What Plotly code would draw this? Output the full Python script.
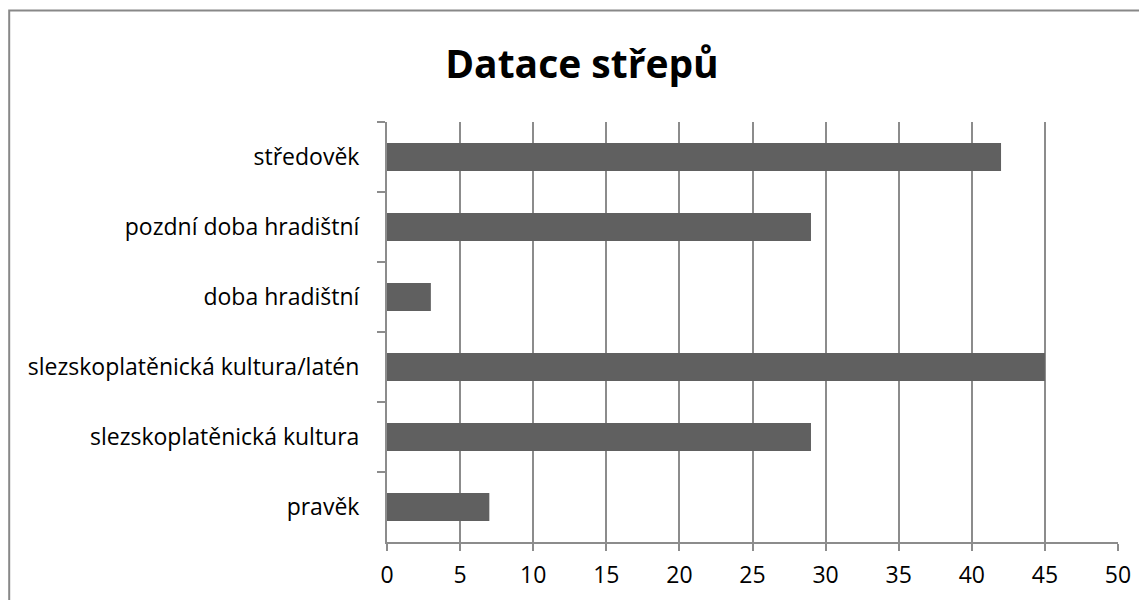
import plotly.graph_objects as go

categories = ['středověk', 'pozdní doba hradištní', 'doba hradištní',
              'slezskoplatěnická kultura/latén', 'slezskoplatěnická kultura', 'pravěk']
counts = [42, 29, 3, 45, 29, 7]

font = "Open Sans"
grid = "#8c8c8c"

fig = go.Figure([go.Bar(x=counts, y=categories, orientation='h',
                        marker_color='#606060', marker_line_width=0)])

# page body adds an 8px offset, so margins are shifted to compensate
fig.update_layout(
    width=1147, height=600,
    margin=dict(l=379, r=37, t=114, b=66),
    paper_bgcolor='white', plot_bgcolor='white',
    font=dict(family=font, size=23, color='#000000'),
    bargap=0.6,
    showlegend=False,
    title=dict(text='<b>Datace střepů</b>', font=dict(family=font, size=39, color='#000000'),
               x=574 / 1147, xref='container', xanchor='center',
               y=1 - 56 / 600, yref='container', yanchor='middle'),
)
fig.update_xaxes(range=[0, 50], dtick=5, showgrid=True, gridcolor=grid, gridwidth=2,
                 showline=True, linecolor=grid, linewidth=2,
                 ticks='outside', ticklen=7, tickcolor=grid, tickwidth=2,
                 ticklabelstandoff=4, zeroline=False, fixedrange=True)
fig.update_yaxes(autorange='reversed', showgrid=False,
                 showline=True, linecolor=grid, linewidth=2,
                 ticks='outside', tickson='boundaries', ticklen=8, tickcolor=grid, tickwidth=2,
                 ticklabelstandoff=21)

# thin frame round the chart area (right and bottom fall outside the window)
fig.add_shape(type='rect', xref='paper', yref='paper',
              x0=(9.2 - 387) / 731, x1=(1170 - 387) / 731,
              y0=(542 - 630) / 420, y1=(542 - 10.5) / 420,
              line=dict(color='#888888', width=2), layer='below')

fig.write_html("out.html")
